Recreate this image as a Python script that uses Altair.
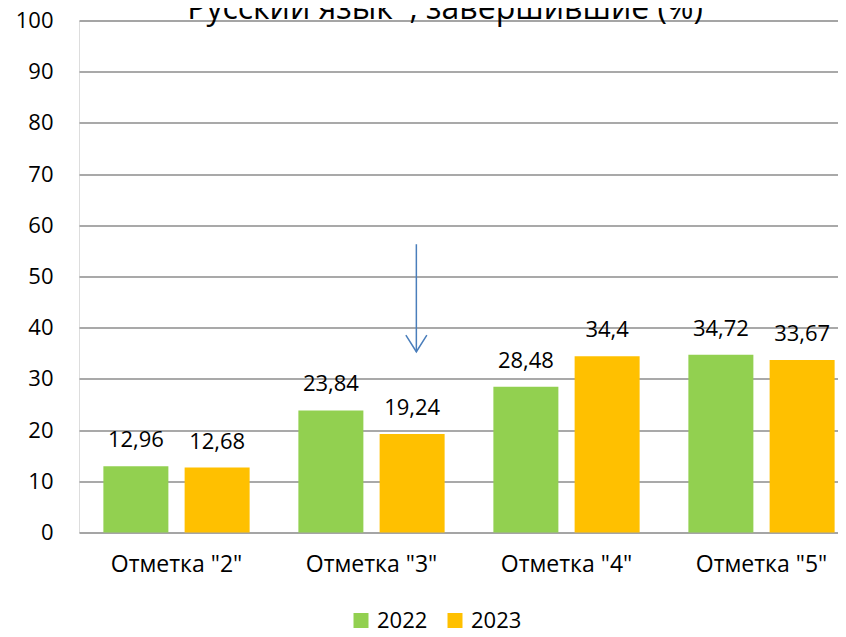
import altair as alt
import pandas as pd

# ---- data ----
categories = ['Отметка "2"', 'Отметка "3"', 'Отметка "4"', 'Отметка "5"']
years = ["2022", "2023"]
values_2022 = [12.96, 23.84, 28.48, 34.72]
values_2023 = [12.68, 19.24, 34.4, 33.67]
y_ticks = list(range(0, 101, 10))
title_text = "Русский язык\u00a0 , завершившие (%)"
arrow_category = 'Отметка "3"'
arrow_start = 56.3
arrow_end = 35.3
colors = ["#92D050", "#FFC000"]

rows = []
for cat, v22, v23 in zip(categories, values_2022, values_2023):
    for yr, v in zip(years, (v22, v23)):
        rows.append({"category": cat, "year": yr, "value": v,
                     "label": f"{v:g}".replace(".", ",")})
df = pd.DataFrame(rows)
arrow_df = pd.DataFrame({"category": [arrow_category],
                         "start": [arrow_start], "end": [arrow_end]})
title_df = pd.DataFrame({"title": [title_text]})

FONT = "Open Sans"

x_scale = alt.Scale(domain=categories, range=[0, 780], paddingInner=0, paddingOuter=0)
y_scale = alt.Scale(domain=[0, 100], nice=False)
xo_scale = alt.Scale(domain=years, paddingInner=0.2, paddingOuter=0.3)
color_scale = alt.Scale(domain=years, range=colors)

x_axis = alt.Axis(title=None, labelAngle=0, labelFontSize=23, labelPadding=21,
                  ticks=False, domain=False, grid=False, labelColor="#000",
                  labelLimit=0, labelOverlap=False, labelFont=FONT)
y_axis = alt.Axis(title=None, values=y_ticks, labelFontSize=22, labelPadding=26,
                  ticks=False, domain=False, grid=True, gridColor="#8c8c8c",
                  gridWidth=1.5, labelColor="#000", labelFont=FONT)

legend = alt.Legend(title=None, orient="none", legendX=271, legendY=589,
                    direction="horizontal", symbolType="square", symbolSize=225,
                    symbolStrokeWidth=0, symbolOpacity=1, labelFontSize=22,
                    labelOffset=5, columnPadding=16, padding=0, labelColor="#000",
                    labelFont=FONT)

bars = alt.Chart(df).mark_bar(opacity=1).encode(
    x=alt.X("category:N", scale=x_scale, sort=categories, axis=x_axis),
    xOffset=alt.XOffset("year:N", scale=xo_scale),
    y=alt.Y("value:Q", scale=y_scale, axis=y_axis),
    color=alt.Color("year:N", scale=color_scale, legend=legend),
)

labels = alt.Chart(df).mark_text(baseline="alphabetic", dy=-19, fontSize=22,
                                 color="#000", font=FONT).encode(
    x=alt.X("category:N", scale=x_scale, sort=categories, axis=x_axis),
    xOffset=alt.XOffset("year:N", scale=xo_scale),
    y=alt.Y("value:Q", scale=y_scale, axis=y_axis),
    text="label:N",
)

arrow_line = alt.Chart(arrow_df).mark_rule(color="#4A7EBB", strokeWidth=1.5).encode(
    x=alt.X("category:N", scale=x_scale, sort=categories, axis=x_axis, bandPosition=0.73),
    y=alt.Y("start:Q", scale=y_scale, axis=y_axis),
    y2="end:Q",
)

arrow_head = alt.Chart(arrow_df).mark_point(
    shape="M-1,-1.59L0,0L1,-1.59", size=441, filled=False, color="#4A7EBB",
    strokeWidth=1.5, opacity=1).encode(
    x=alt.X("category:N", scale=x_scale, sort=categories, axis=x_axis, bandPosition=0.73),
    y=alt.Y("end:Q", scale=y_scale, axis=y_axis),
)

# chart title, drawn as text just above the plot (partly cut by the page top, as in the reference)
title_mark = alt.Chart(title_df).mark_text(
    baseline="alphabetic", align="center", fontSize=32, font=FONT, color="#000").encode(
    x=alt.value(366), y=alt.value(-2), text="title:N",
)

chart = alt.layer(bars, labels, arrow_line, arrow_head, title_mark).properties(
    width=759, height=512,
    autosize=alt.AutoSizeParams(type="none"),
    padding={"left": 71, "top": 12.5, "right": 0, "bottom": 96.5},
).configure_view(stroke=None).configure(font=FONT, background="white")

chart.save("out.html", embed_options={"renderer": "svg", "actions": False})
